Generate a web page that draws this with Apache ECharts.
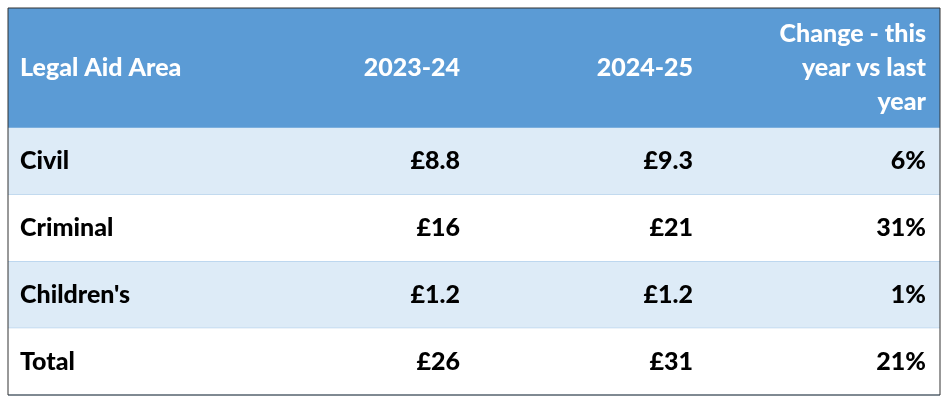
<!DOCTYPE html>
<html><head><meta charset="utf-8">
<script src="https://cdn.jsdelivr.net/npm/echarts@6/dist/echarts.min.js"></script>
<style>html,body{margin:0;padding:0;background:#fff}#c{width:949px;height:402px}</style>
</head><body><div id="c"></div>
<script>
const headers = ['Legal Aid Area', '2023-24', '2024-25', 'Change - this\nyear vs last\nyear'];
const categories = ['Civil', 'Criminal', "Children's", 'Total'];
const spend2324 = ['£8.8', '£16', '£1.2', '£26'];
const spend2425 = ['£9.3', '£21', '£1.2', '£31'];
const change = ['6%', '31%', '1%', '21%'];

const data = [];
headers.forEach((h, c) => data.push([c, -1, h]));
categories.forEach((cat, r) => {
  data.push([0, r, cat]);
  data.push([1, r, spend2324[r]]);
  data.push([2, r, spend2425[r]]);
  data.push([3, r, change[r]]);
});
const HEADER_H = 120;
const FONT = 'Lato';
const chart = echarts.init(document.getElementById('c'));
chart.setOption({
  animation: false,
  grid: { left: 8, right: 9, top: 128, bottom: 7 },
  xAxis: { type: 'value', min: 0, max: 4, show: false },
  yAxis: { type: 'value', min: 0, max: 4, inverse: true, show: false },
  series: [{
    type: 'custom',
    data: data,
    renderItem: function (params, api) {
      const c = api.value(0), r = api.value(1), txt = api.value(2);
      const p0 = api.coord([c, Math.max(r, 0)]);
      const p1 = api.coord([c + 1, Math.max(r, 0) + 1]);
      let x = p0[0], w = p1[0] - p0[0], y, h, fill, color;
      if (r < 0) { y = p0[1] - HEADER_H; h = HEADER_H; fill = '#5b9bd5'; color = '#fff'; }
      else { y = p0[1]; h = p1[1] - p0[1]; fill = (r % 2 === 0 && r < 3) ? '#ddebf7' : '#ffffff'; color = '#000'; }
      const left = c === 0;
      return {
        type: 'group',
        children: [
          { type: 'rect', shape: { x: x, y: y, width: w, height: h }, style: { fill: fill } },
          { type: 'line', shape: { x1: x, y1: y + h, x2: x + w, y2: y + h }, style: { stroke: '#9dc3e6', lineWidth: 1 } },
          { type: 'text', style: {
              text: txt, x: left ? x + 12 : x + w - 14, y: y + h / 2,
              align: left ? 'left' : 'right', verticalAlign: 'middle',
              fill: color, font: '900 25px ' + FONT, lineHeight: 34 } }
        ]
      };
    }
  }],
  graphic: [{ type: 'rect', shape: { x: 8, y: 8, width: 932, height: 387 }, style: { fill: null, stroke: '#333', lineWidth: 1 }, z: 100 }]
});
</script></body></html>
